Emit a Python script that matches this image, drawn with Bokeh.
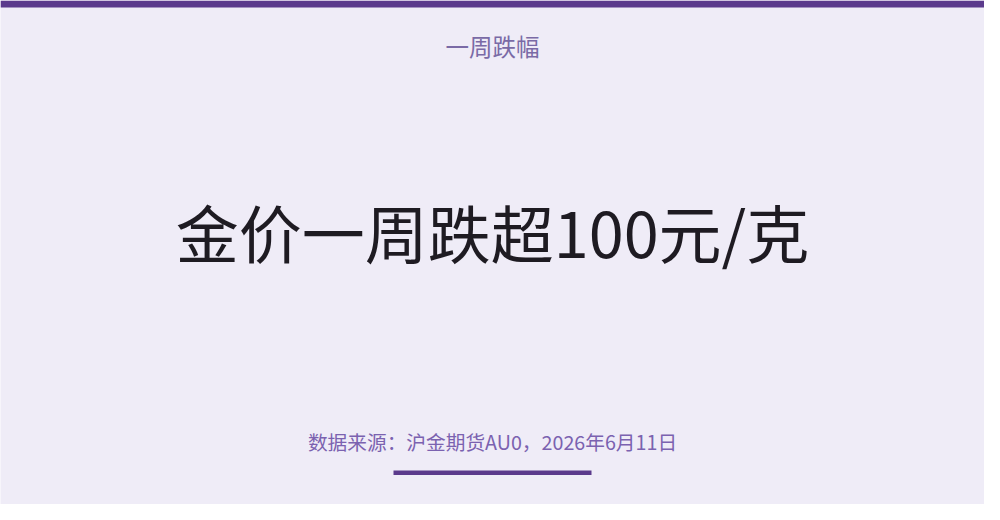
from bokeh.plotting import figure
from bokeh.models import Range1d
from bokeh.core.properties import value
from bokeh.embed import file_html
from bokeh.resources import INLINE

# Texts of the card
subtitle = ["一周跌幅"]
headline = ["金价一周跌超100元/克"]
source_note = ["数据来源：沪金期货AU0，2026年6月11日"]

W, H = 984, 504
BG = "#EFECF7"
PURPLE = "#5B3A8C"

p = figure(width=W, height=H, output_backend="svg", toolbar_location=None,
           x_range=Range1d(0, W), y_range=Range1d(H, 0),
           min_border=0, min_border_left=0, min_border_right=0,
           min_border_top=0, min_border_bottom=0)
p.axis.visible = False
p.grid.visible = False
p.outline_line_color = None
p.background_fill_color = BG
p.border_fill_color = BG

# top band
p.quad(left=[0], right=[W], top=[0], bottom=[7], fill_color=PURPLE, line_color=None)

cx = W / 2
p.text(x=[cx], y=[45], text=subtitle, text_font=value("Noto Sans CJK SC"),
       text_font_size="23.5px", text_color="#7A6AA6", text_align="center",
       text_baseline="middle")
p.text(x=[cx], y=[230], text=headline, text_font=value("Noto Sans CJK SC"),
       text_font_size="63px", text_color="#1E1B22", text_align="center",
       text_baseline="middle")
p.text(x=[cx], y=[441], text=source_note, text_font=value("Noto Sans CJK SC"),
       text_font_size="19.7px", text_color="#7B62B0", text_align="center",
       text_baseline="middle")

# underline accent
p.quad(left=[cx - 99], right=[cx + 99], top=[470], bottom=[474.5],
       fill_color=PURPLE, line_color=None)

open("out.html", "w").write(file_html(p, INLINE))
